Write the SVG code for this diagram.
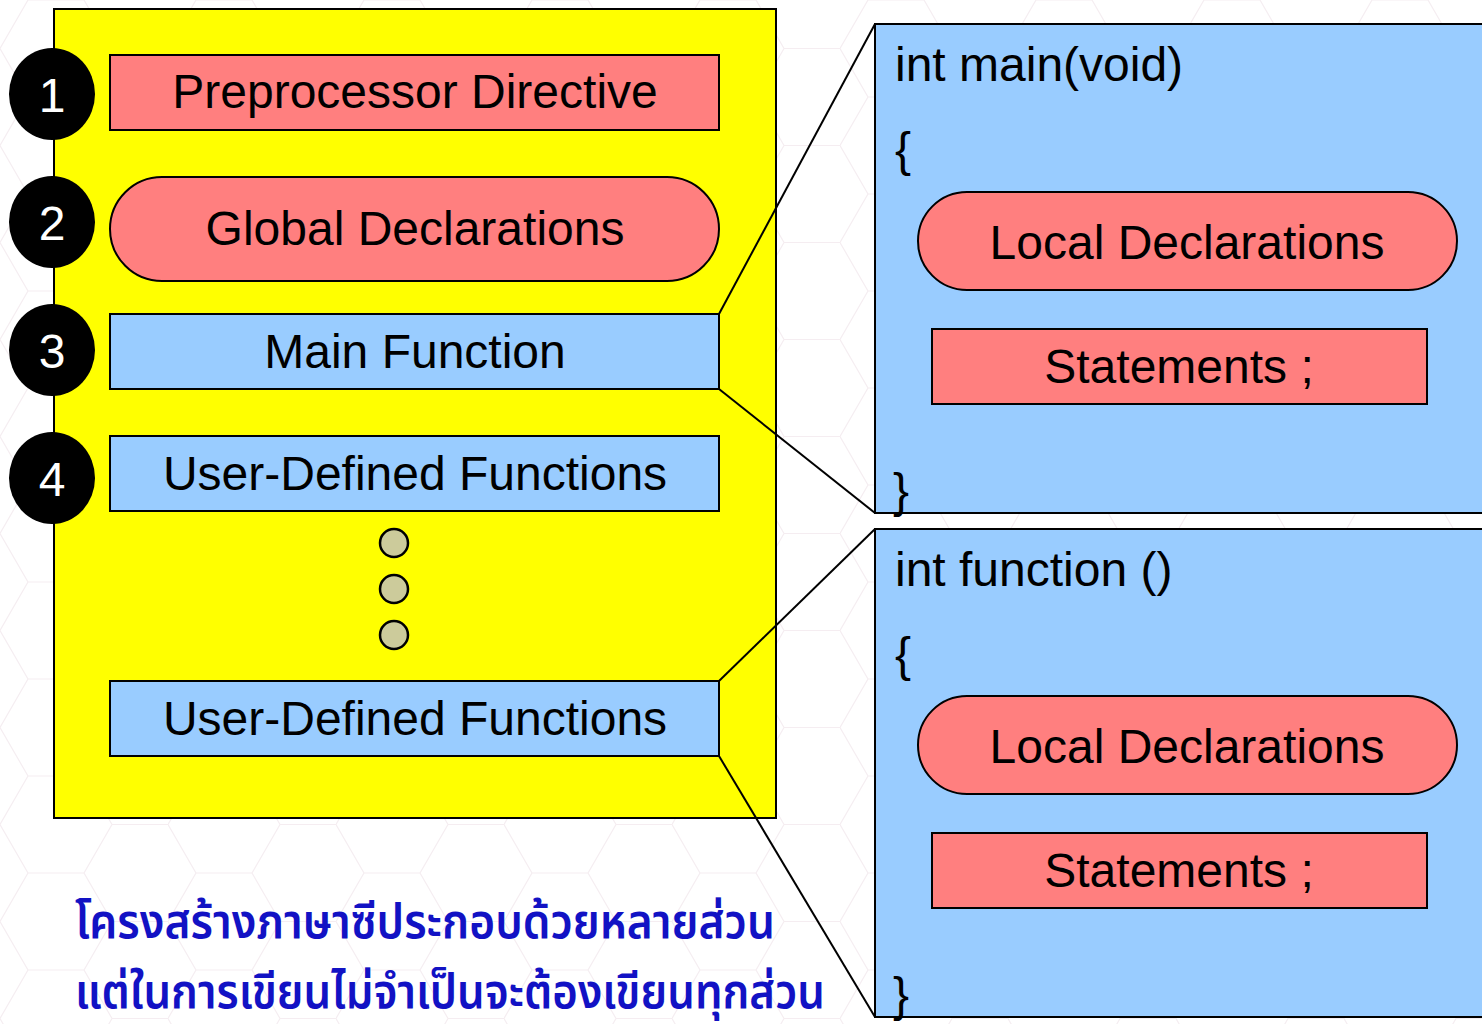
<svg xmlns="http://www.w3.org/2000/svg" width="1482" height="1024" viewBox="0 0 1482 1024">
  <defs>
    <!-- faint honeycomb backdrop -->
    <pattern id="hex" width="168" height="97" patternUnits="userSpaceOnUse">
      <path d="M0 48.5 L28 0 L84 0 L112 48.5 L84 97 L28 97 Z M112 48.5 L168 48.5" fill="none" stroke="#e8d8e0" stroke-width="1.2"/>
    </pattern>
    <style>
      .frame { stroke: #000; stroke-width: 2; }
      .red { fill: #ff7f7f; stroke: #000; stroke-width: 2; }
      .blue { fill: #99ccff; stroke: #000; stroke-width: 2; }
      .label { font-family: "Liberation Sans", Arial, sans-serif; font-size: 48px; fill: #000; text-anchor: middle; }
      .code { font-family: "Liberation Sans", Arial, sans-serif; font-size: 48px; fill: #000; }
      .num { font-family: "Liberation Sans", Arial, sans-serif; font-size: 48px; fill: #fff; text-anchor: middle; }
      .badge { fill: #000; }
      .dot { fill: #cccb9b; stroke: #000; stroke-width: 2.5; }
      .link { stroke: #000; stroke-width: 2; fill: none; }
      .thai { font-family: "Noto Sans Thai", "Noto Sans", "DejaVu Sans", sans-serif; font-weight: 600; font-size: 48px; fill: #1212c4; }
    </style>
  </defs>

  <rect x="0" y="0" width="1482" height="1024" fill="#ffffff"/>
  <rect x="0" y="0" width="1482" height="1024" fill="url(#hex)" opacity="0.45"/>

  <!-- program outline panel -->
  <g id="program">
    <rect x="54" y="9" width="722" height="809" fill="#ffff00" class="frame"/>
  </g>

  <!-- zoom connectors -->
  <g id="connectors">
    <line class="link" x1="719" y1="314" x2="875" y2="24"/>
    <line class="link" x1="719" y1="389" x2="875" y2="513"/>
    <line class="link" x1="719" y1="681" x2="875" y2="529"/>
    <line class="link" x1="719" y1="756" x2="875" y2="1017"/>
  </g>

  <g id="badge1">
    <ellipse class="badge" cx="52" cy="94" rx="43" ry="46"/>
    <text class="num" x="52" y="112">1</text>
  </g>
  <g id="badge2">
    <ellipse class="badge" cx="52" cy="222" rx="43" ry="46"/>
    <text class="num" x="52" y="240">2</text>
  </g>
  <g id="badge3">
    <ellipse class="badge" cx="52" cy="350" rx="43" ry="46"/>
    <text class="num" x="52" y="368">3</text>
  </g>
  <g id="badge4">
    <ellipse class="badge" cx="52" cy="478" rx="43" ry="46"/>
    <text class="num" x="52" y="496">4</text>
  </g>

  <g id="preprocessor">
    <rect class="red" x="110" y="55" width="609" height="75"/>
    <text class="label" x="415" y="108">Preprocessor Directive</text>
  </g>
  <g id="global-decl">
    <rect class="red" x="110" y="177" width="609" height="104" rx="52" ry="52"/>
    <text class="label" x="415" y="245">Global Declarations</text>
  </g>
  <g id="main-function">
    <rect class="blue" x="110" y="314" width="609" height="75"/>
    <text class="label" x="415" y="368">Main Function</text>
  </g>
  <g id="user-func-1">
    <rect class="blue" x="110" y="436" width="609" height="75"/>
    <text class="label" x="415" y="490">User-Defined Functions</text>
  </g>
  <g id="ellipsis">
    <circle class="dot" cx="394" cy="543" r="14"/>
    <circle class="dot" cx="394" cy="589" r="14"/>
    <circle class="dot" cx="394" cy="635" r="14"/>
  </g>
  <g id="user-func-2">
    <rect class="blue" x="110" y="681" width="609" height="75"/>
    <text class="label" x="415" y="735">User-Defined Functions</text>
  </g>

  <!-- expanded main() -->
  <g id="main-detail">
    <rect class="blue" x="875" y="24" width="620" height="489"/>
    <text class="code" x="895" y="81">int main(void)</text>
    <text class="code" x="895" y="166">{</text>
    <rect class="red" x="918" y="192" width="539" height="98" rx="49" ry="49"/>
    <text class="label" x="1187" y="259">Local Declarations</text>
    <rect class="red" x="932" y="329" width="495" height="75"/>
    <text class="label" x="1179" y="383">Statements ;</text>
    <text class="code" x="893" y="507">}</text>
  </g>

  <!-- expanded user function -->
  <g id="function-detail">
    <rect class="blue" x="875" y="529" width="620" height="488"/>
    <text class="code" x="895" y="586">int function ()</text>
    <text class="code" x="895" y="671">{</text>
    <rect class="red" x="918" y="696" width="539" height="98" rx="49" ry="49"/>
    <text class="label" x="1187" y="763">Local Declarations</text>
    <rect class="red" x="932" y="833" width="495" height="75"/>
    <text class="label" x="1179" y="887">Statements ;</text>
    <text class="code" x="893" y="1011">}</text>
  </g>

  <!-- caption -->
  <g id="caption">
    <text class="thai" x="75" y="938" textLength="700" lengthAdjust="spacingAndGlyphs">โครงสร้างภาษาซีประกอบด้วยหลายส่วน</text>
    <text class="thai" x="75" y="1008" textLength="750" lengthAdjust="spacingAndGlyphs">แต่ในการเขียนไม่จำเป็นจะต้องเขียนทุกส่วน</text>
  </g>
</svg>
